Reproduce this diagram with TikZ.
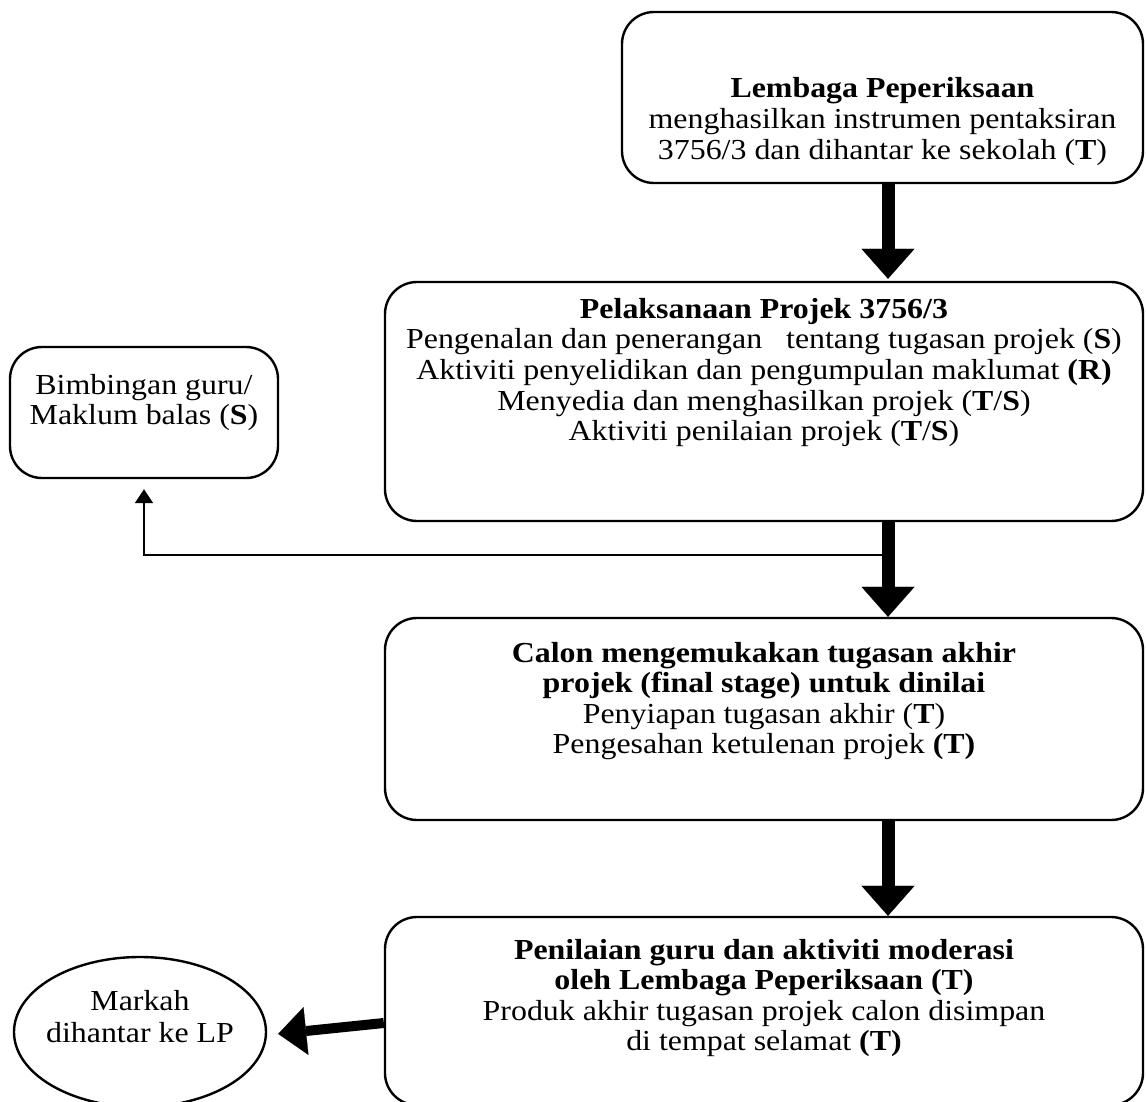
\documentclass[tikz,border=0pt]{standalone}
\usepackage{fontspec}
\setmainfont{Liberation Serif}[FakeStretch=1.1]
\usepackage{tikz}
\usetikzlibrary{arrows.meta, positioning, shapes.geometric}

\newcommand{\lift}[1]{\rule[-#1]{0pt}{0pt}}
\newcommand{\sink}[1]{\rule{0pt}{#1}}

\tikzset{
  stagebox/.style={draw, line width=1.2pt, rounded corners=16pt, align=center,
    inner sep=0pt, font=\fontsize{14.5}{15.3}\selectfont},
  endnode/.style={draw, ellipse, line width=1.2pt, align=center, inner xsep=-12pt,
    inner ysep=0pt, font=\fontsize{14.5}{16}\selectfont},
  bigarrow/.style={line width=6.5pt, -{Triangle[width=26.5pt, length=15pt, line width=0.1pt]}},
  sidearrow/.style={line width=5pt, -{Triangle[width=24pt, length=14pt, line width=0.1pt]}},
  thinarrow/.style={line width=1pt, -{Triangle[width=9pt, length=7pt]}}
}

\begin{document}
\begin{tikzpicture}[x=0.5pt, y=-0.5pt]
  \useasboundingbox (0,0) rectangle (1146,1102);
  \coordinate (spine) at (888,0);
  \node (lp) [stagebox, minimum width=260.5pt, minimum height=85.5pt] at (882.5,97.5)
    {\sink{34pt}\textbf{Lembaga Peperiksaan}\\ menghasilkan instrumen pentaksiran\\ 3756/3 dan dihantar ke sekolah (\textbf{T})};
  \node (exec) [stagebox, minimum width=379pt, minimum height=119.5pt] at (764,401.5)
    {\textbf{Pelaksanaan Projek 3756/3}\\ Pengenalan dan penerangan\ \ \ tentang tugasan projek (\textbf{S})\\
     Aktiviti penyelidikan dan pengumpulan maklumat \textbf{(R)}\\ Menyedia dan menghasilkan projek (\textbf{T}/\textbf{S})\\
     Aktiviti penilaian projek (\textbf{T}/\textbf{S})\lift{32pt}};
  \node (guide) [stagebox, minimum width=134pt, minimum height=65.5pt] at (144,412.5)
    {Bimbingan guru/\\ Maklum balas (\textbf{S})\lift{13pt}};
  \node (submit) [stagebox, minimum width=379pt, minimum height=101pt] at (764,719)
    {\textbf{Calon mengemukakan tugasan akhir}\\ \textbf{projek (final stage) untuk dinilai}\\
     Penyiapan tugasan akhir (\textbf{T})\\ Pengesahan ketulenan projek \textbf{(T)}\lift{21pt}};
  \node (assess) [stagebox, minimum width=379pt, minimum height=94pt] at (764,1011)
    {\textbf{Penilaian guru dan aktiviti moderasi}\\ \textbf{oleh Lembaga Peperiksaan (T)}\\
     Produk akhir tugasan projek calon disimpan\\ di tempat selamat \textbf{(T)}\lift{16pt}};
  \node (marks) [endnode, minimum width=126pt, minimum height=75pt] at (140,1032)
    {Markah\\ dihantar ke LP\lift{16pt}};
  \coordinate (tap) at (888,555);
  \draw[bigarrow, shorten >=1pt] (lp.south -| spine) to (exec.north -| spine);
  \draw[bigarrow] (exec.south -| spine) to (submit.north -| spine);
  \draw[bigarrow] (submit.south -| spine) to (assess.north -| spine);
  \draw[thinarrow, shorten >=5pt] (tap) -| (guide.south);
  \draw[sidearrow, shorten >=5.5pt] ([yshift=-6pt]assess.west) to ([yshift=-1.5pt]marks.east);
\end{tikzpicture}
\end{document}
